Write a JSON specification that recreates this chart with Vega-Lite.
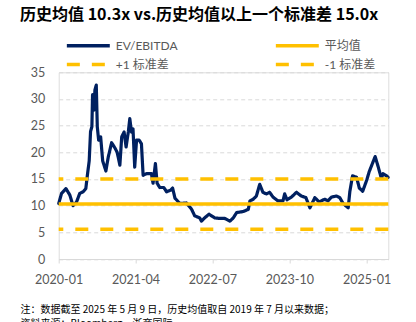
{
  "$schema": "https://vega.github.io/schema/vega-lite/v6.json",
  "width": 329.6,
  "height": 186.7,
  "autosize": {"type": "none"},
  "padding": {"left": 58.7, "top": 72.3, "right": 27.7, "bottom": 63},
  "background": "white",
  "title": {
    "text": "历史均值 10.3x vs.历史均值以上一个标准差 15.0x",
    "font": "Noto Sans CJK SC",
    "fontSize": 16,
    "fontWeight": "bold",
    "color": "#000000",
    "anchor": "start",
    "frame": "group",
    "dx": -38.7,
    "offset": 14
  },
  "datasets": {
    "ev": [
      {"date": "2020-01-01", "value": 10.4, "series": "EV/EBITDA"},
      {"date": "2020-01-18", "value": 12.3, "series": "EV/EBITDA"},
      {"date": "2020-02-13", "value": 13.2, "series": "EV/EBITDA"},
      {"date": "2020-03-07", "value": 12.0, "series": "EV/EBITDA"},
      {"date": "2020-03-26", "value": 10.0, "series": "EV/EBITDA"},
      {"date": "2020-04-16", "value": 10.7, "series": "EV/EBITDA"},
      {"date": "2020-05-05", "value": 12.3, "series": "EV/EBITDA"},
      {"date": "2020-05-25", "value": 12.6, "series": "EV/EBITDA"},
      {"date": "2020-06-10", "value": 13.2, "series": "EV/EBITDA"},
      {"date": "2020-06-18", "value": 15.4, "series": "EV/EBITDA"},
      {"date": "2020-06-30", "value": 18.4, "series": "EV/EBITDA"},
      {"date": "2020-07-08", "value": 23.9, "series": "EV/EBITDA"},
      {"date": "2020-07-16", "value": 24.8, "series": "EV/EBITDA"},
      {"date": "2020-07-20", "value": 30.8, "series": "EV/EBITDA"},
      {"date": "2020-07-28", "value": 27.9, "series": "EV/EBITDA"},
      {"date": "2020-08-03", "value": 31.7, "series": "EV/EBITDA"},
      {"date": "2020-08-11", "value": 32.6, "series": "EV/EBITDA"},
      {"date": "2020-08-17", "value": 24.8, "series": "EV/EBITDA"},
      {"date": "2020-08-25", "value": 22.3, "series": "EV/EBITDA"},
      {"date": "2020-09-06", "value": 22.9, "series": "EV/EBITDA"},
      {"date": "2020-09-18", "value": 18.4, "series": "EV/EBITDA"},
      {"date": "2020-10-07", "value": 16.5, "series": "EV/EBITDA"},
      {"date": "2020-10-21", "value": 19.1, "series": "EV/EBITDA"},
      {"date": "2020-11-10", "value": 21.8, "series": "EV/EBITDA"},
      {"date": "2020-11-30", "value": 20.8, "series": "EV/EBITDA"},
      {"date": "2020-12-13", "value": 20.0, "series": "EV/EBITDA"},
      {"date": "2020-12-29", "value": 17.6, "series": "EV/EBITDA"},
      {"date": "2021-01-09", "value": 22.9, "series": "EV/EBITDA"},
      {"date": "2021-01-23", "value": 23.8, "series": "EV/EBITDA"},
      {"date": "2021-02-04", "value": 21.0, "series": "EV/EBITDA"},
      {"date": "2021-02-17", "value": 23.8, "series": "EV/EBITDA"},
      {"date": "2021-02-26", "value": 26.3, "series": "EV/EBITDA"},
      {"date": "2021-03-08", "value": 23.8, "series": "EV/EBITDA"},
      {"date": "2021-03-17", "value": 24.4, "series": "EV/EBITDA"},
      {"date": "2021-03-27", "value": 17.2, "series": "EV/EBITDA"},
      {"date": "2021-04-07", "value": 22.3, "series": "EV/EBITDA"},
      {"date": "2021-04-22", "value": 22.3, "series": "EV/EBITDA"},
      {"date": "2021-05-06", "value": 21.6, "series": "EV/EBITDA"},
      {"date": "2021-05-16", "value": 15.7, "series": "EV/EBITDA"},
      {"date": "2021-06-05", "value": 16.0, "series": "EV/EBITDA"},
      {"date": "2021-07-04", "value": 16.0, "series": "EV/EBITDA"},
      {"date": "2021-07-14", "value": 14.2, "series": "EV/EBITDA"},
      {"date": "2021-07-28", "value": 17.9, "series": "EV/EBITDA"},
      {"date": "2021-08-07", "value": 14.2, "series": "EV/EBITDA"},
      {"date": "2021-08-23", "value": 13.4, "series": "EV/EBITDA"},
      {"date": "2021-09-16", "value": 13.4, "series": "EV/EBITDA"},
      {"date": "2021-10-02", "value": 12.6, "series": "EV/EBITDA"},
      {"date": "2021-10-26", "value": 12.9, "series": "EV/EBITDA"},
      {"date": "2021-11-07", "value": 13.3, "series": "EV/EBITDA"},
      {"date": "2021-11-21", "value": 11.4, "series": "EV/EBITDA"},
      {"date": "2021-12-20", "value": 10.4, "series": "EV/EBITDA"},
      {"date": "2022-01-29", "value": 10.5, "series": "EV/EBITDA"},
      {"date": "2022-02-28", "value": 9.3, "series": "EV/EBITDA"},
      {"date": "2022-03-18", "value": 8.1, "series": "EV/EBITDA"},
      {"date": "2022-04-17", "value": 7.7, "series": "EV/EBITDA"},
      {"date": "2022-04-27", "value": 7.1, "series": "EV/EBITDA"},
      {"date": "2022-05-16", "value": 7.7, "series": "EV/EBITDA"},
      {"date": "2022-06-11", "value": 8.4, "series": "EV/EBITDA"},
      {"date": "2022-07-15", "value": 7.7, "series": "EV/EBITDA"},
      {"date": "2022-08-14", "value": 7.6, "series": "EV/EBITDA"},
      {"date": "2022-09-13", "value": 7.6, "series": "EV/EBITDA"},
      {"date": "2022-10-13", "value": 7.1, "series": "EV/EBITDA"},
      {"date": "2022-11-02", "value": 7.7, "series": "EV/EBITDA"},
      {"date": "2022-11-22", "value": 8.7, "series": "EV/EBITDA"},
      {"date": "2022-12-31", "value": 8.9, "series": "EV/EBITDA"},
      {"date": "2023-01-30", "value": 9.3, "series": "EV/EBITDA"},
      {"date": "2023-02-09", "value": 10.9, "series": "EV/EBITDA"},
      {"date": "2023-02-28", "value": 11.2, "series": "EV/EBITDA"},
      {"date": "2023-03-19", "value": 11.8, "series": "EV/EBITDA"},
      {"date": "2023-04-08", "value": 14.0, "series": "EV/EBITDA"},
      {"date": "2023-04-27", "value": 12.5, "series": "EV/EBITDA"},
      {"date": "2023-05-17", "value": 12.2, "series": "EV/EBITDA"},
      {"date": "2023-06-06", "value": 12.5, "series": "EV/EBITDA"},
      {"date": "2023-06-26", "value": 11.6, "series": "EV/EBITDA"},
      {"date": "2023-07-25", "value": 10.9, "series": "EV/EBITDA"},
      {"date": "2023-08-24", "value": 10.9, "series": "EV/EBITDA"},
      {"date": "2023-09-03", "value": 12.2, "series": "EV/EBITDA"},
      {"date": "2023-09-17", "value": 11.1, "series": "EV/EBITDA"},
      {"date": "2023-10-13", "value": 11.6, "series": "EV/EBITDA"},
      {"date": "2023-11-12", "value": 12.5, "series": "EV/EBITDA"},
      {"date": "2023-12-11", "value": 11.8, "series": "EV/EBITDA"},
      {"date": "2024-01-07", "value": 11.5, "series": "EV/EBITDA"},
      {"date": "2024-01-31", "value": 9.6, "series": "EV/EBITDA"},
      {"date": "2024-02-29", "value": 11.5, "series": "EV/EBITDA"},
      {"date": "2024-03-25", "value": 10.7, "series": "EV/EBITDA"},
      {"date": "2024-04-28", "value": 11.2, "series": "EV/EBITDA"},
      {"date": "2024-05-17", "value": 10.9, "series": "EV/EBITDA"},
      {"date": "2024-06-07", "value": 11.6, "series": "EV/EBITDA"},
      {"date": "2024-07-06", "value": 11.8, "series": "EV/EBITDA"},
      {"date": "2024-07-26", "value": 11.5, "series": "EV/EBITDA"},
      {"date": "2024-08-15", "value": 10.4, "series": "EV/EBITDA"},
      {"date": "2024-09-14", "value": 9.6, "series": "EV/EBITDA"},
      {"date": "2024-09-24", "value": 12.7, "series": "EV/EBITDA"},
      {"date": "2024-10-10", "value": 15.6, "series": "EV/EBITDA"},
      {"date": "2024-11-03", "value": 15.3, "series": "EV/EBITDA"},
      {"date": "2024-11-19", "value": 13.3, "series": "EV/EBITDA"},
      {"date": "2024-12-09", "value": 12.7, "series": "EV/EBITDA"},
      {"date": "2025-01-02", "value": 14.8, "series": "EV/EBITDA"},
      {"date": "2025-01-17", "value": 16.4, "series": "EV/EBITDA"},
      {"date": "2025-02-01", "value": 17.6, "series": "EV/EBITDA"},
      {"date": "2025-02-21", "value": 19.2, "series": "EV/EBITDA"},
      {"date": "2025-03-10", "value": 17.4, "series": "EV/EBITDA"},
      {"date": "2025-03-30", "value": 15.1, "series": "EV/EBITDA"},
      {"date": "2025-04-09", "value": 16.0, "series": "EV/EBITDA"},
      {"date": "2025-04-29", "value": 15.6, "series": "EV/EBITDA"},
      {"date": "2025-05-09", "value": 15.3, "series": "EV/EBITDA"}
    ],
    "bands": [
      {"series": "平均值", "value": 10.3},
      {"series": "+1 标准差", "value": 15.0},
      {"series": "-1 标准差", "value": 5.6}
    ]
  },
  "encoding": {
    "y": {
      "field": "value",
      "type": "quantitative",
      "scale": {"domain": [0, 35]},
      "axis": {
        "values": [0, 5, 10, 15, 20, 25, 30, 35],
        "domain": false,
        "ticks": false,
        "grid": true,
        "gridColor": "#D9D9D9",
        "gridDash": [4, 3],
        "gridWidth": 1,
        "labelFont": "Lato",
        "labelFontSize": 12.5,
        "labelColor": "#595959",
        "labelPadding": 14,
        "title": null
      }
    },
    "color": {
      "field": "series",
      "type": "nominal",
      "scale": {
        "domain": ["EV/EBITDA", "平均值", "+1 标准差", "-1 标准差"],
        "range": ["#002060", "#FFC000", "#FFC000", "#FFC000"]
      },
      "legend": {
        "title": null,
        "orient": "none",
        "legendX": 6.3,
        "legendY": -35.5,
        "direction": "horizontal",
        "columns": 2,
        "columnPadding": 90,
        "rowPadding": 2.7,
        "symbolType": "M-1,0H5",
        "symbolSize": 205,
        "symbolStrokeWidth": 3.5,
        "labelFont": "Lato, Noto Sans CJK SC",
        "labelFontSize": 12,
        "labelColor": "#595959",
        "labelOffset": 32.7
      }
    },
    "strokeDash": {
      "field": "series",
      "type": "nominal",
      "scale": {
        "domain": ["EV/EBITDA", "平均值", "+1 标准差", "-1 标准差"],
        "range": [[1, 0], [1, 0], [13, 12], [13, 12]]
      }
    }
  },
  "layer": [
    {
      "data": {"name": "ev"},
      "mark": {"type": "line", "strokeWidth": 3.2, "strokeJoin": "round", "strokeCap": "round"},
      "encoding": {
        "x": {
          "field": "date",
          "type": "temporal",
          "scale": {
            "type": "utc",
            "domain": [
              {"year": 2020, "month": 1, "date": 1, "utc": true},
              {"year": 2025, "month": 5, "date": 10, "utc": true}
            ]
          },
          "axis": {
            "values": [
              {"year": 2020, "month": 1, "date": 1, "utc": true},
              {"year": 2021, "month": 4, "date": 1, "utc": true},
              {"year": 2022, "month": 7, "date": 1, "utc": true},
              {"year": 2023, "month": 10, "date": 1, "utc": true},
              {"year": 2025, "month": 1, "date": 1, "utc": true}
            ],
            "labelExpr": "utcFormat(datum.value, '%Y-%m')",
            "grid": false,
            "domainColor": "#D9D9D9",
            "domainWidth": 1,
            "tickColor": "#D9D9D9",
            "tickSize": 4,
            "labelFont": "Lato",
            "labelFontSize": 12.5,
            "labelColor": "#595959",
            "labelPadding": 10,
            "labelFlush": false,
            "title": ["注：数据截至 2025 年 5 月 9 日，历史均值取自 2019 年 7 月以来数据；", "资料来源：Bloomberg，浙商国际"],
            "titleFont": "Noto Sans CJK SC",
            "titleFontSize": 10,
            "titleFontWeight": "normal",
            "titleColor": "#000000",
            "titleAlign": "left",
            "titleAnchor": "start",
            "titleBaseline": "top",
            "titleLineHeight": 14,
            "titleX": -38.7,
            "titleY": 45
          }
        }
      }
    },
    {
      "data": {"name": "bands"},
      "mark": {"type": "rule", "strokeWidth": 3.5}
    }
  ]
}
